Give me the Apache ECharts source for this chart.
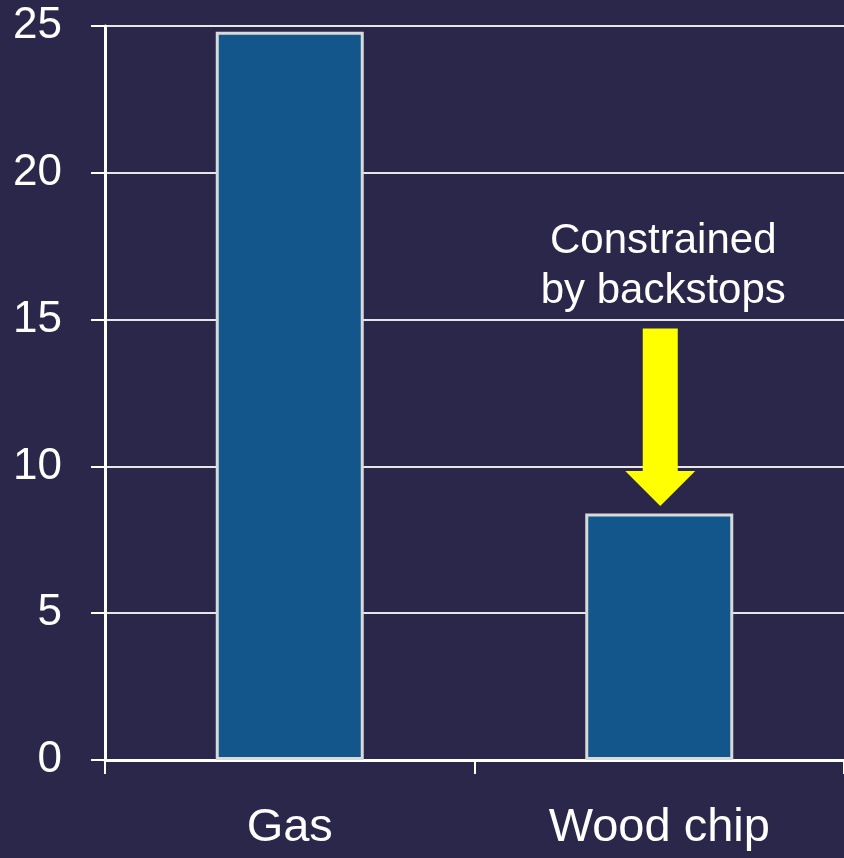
<!DOCTYPE html>
<html>
<head>
<meta charset="utf-8">
<script src="https://cdn.jsdelivr.net/npm/echarts@6/dist/echarts.min.js"></script>
<style>
  html, body { margin: 0; padding: 0; background: #2b274a; }
  #main { width: 844px; height: 858px; }
</style>
</head>
<body>
<div id="main"></div>
<script>
// 数据
var categories = ['Gas', 'Wood chip'];
var values = [24.8, 8.4];
var yTicks = [0, 5, 10, 15, 20, 25];

// 标注箭头（取值为 y 轴数值）
var noteCategory = 'Wood chip';
var noteText = 'Constrained\nby backstops';
var arrowTop = 14.7;
var arrowTip = 8.65;

var font = '"Liberation Sans", Arial, sans-serif';

var chart = echarts.init(document.getElementById('main'));

var option = {
  backgroundColor: '#2b274a',
  animation: false,
  grid: { left: 105, top: 26, width: 744, height: 734, containLabel: false },
  xAxis: {
    type: 'category',
    data: categories,
    axisLine: { show: true, lineStyle: { color: '#ffffff', width: 3 } },
    axisTick: { show: true, length: 14, alignWithLabel: false, lineStyle: { color: '#ffffff', width: 2 } },
    axisLabel: { color: '#ffffff', fontSize: 47, fontFamily: font, margin: 45 },
    splitLine: { show: false }
  },
  yAxis: {
    type: 'value',
    min: yTicks[0],
    max: yTicks[yTicks.length - 1],
    interval: 5,
    axisLine: { show: true, lineStyle: { color: '#ffffff', width: 3 } },
    axisTick: { show: true, length: 14, lineStyle: { color: '#ffffff', width: 2 } },
    axisLabel: { color: '#ffffff', fontSize: 44, fontFamily: font, margin: 43 },
    splitLine: { show: true, lineStyle: { color: '#e6e6e6', width: 2 } }
  },
  series: [
    {
      type: 'bar',
      data: values,
      barWidth: 148,
      itemStyle: { color: '#12568c', borderColor: '#d9d9d9', borderWidth: 3 }
    },
    {
      // 黄色箭头 + 说明文字
      type: 'custom',
      data: [[noteCategory, arrowTop, arrowTip]],
      encode: { x: 0, y: [1, 2] },
      z: 10,
      renderItem: function (params, api) {
        var top = api.coord([api.value(0), api.value(1)]);
        var tip = api.coord([api.value(0), api.value(2)]);
        var cx = top[0] + 1;
        var headH = 35, headW = 35, shaftW = 17.5;
        var base = tip[1] - headH;
        return {
          type: 'group',
          children: [
            {
              type: 'polygon',
              shape: {
                points: [
                  [cx - shaftW, top[1]], [cx + shaftW, top[1]],
                  [cx + shaftW, base], [cx + headW, base],
                  [cx, tip[1]],
                  [cx - headW, base], [cx - shaftW, base]
                ]
              },
              style: { fill: '#ffff00' }
            },
            {
              type: 'text',
              style: {
                text: noteText,
                x: cx + 3,
                y: top[1] - 12,
                fill: '#ffffff',
                fontSize: 42,
                fontFamily: font,
                lineHeight: 50,
                align: 'center',
                verticalAlign: 'bottom'
              }
            }
          ]
        };
      }
    }
  ]
};

chart.setOption(option);
</script>
</body>
</html>
